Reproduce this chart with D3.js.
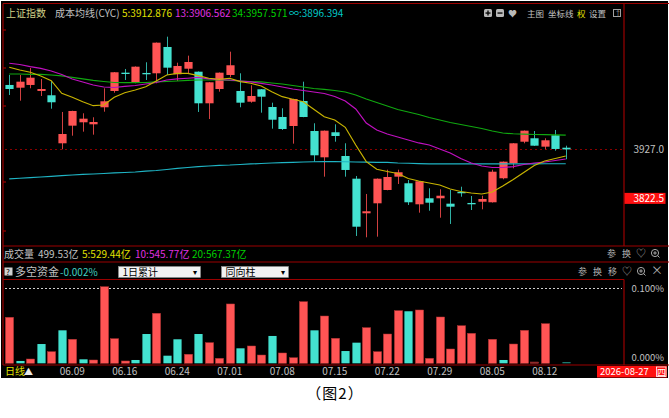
<!DOCTYPE html>
<html>
<head>
<meta charset="utf-8">
<script src="https://cdn.jsdelivr.net/npm/d3@7"></script>
<style>
  body { margin: 0; background: #fff; }
  text { font-family: "Noto Sans CJK SC", sans-serif; font-size: 10px; }
</style>
</head>
<body>
<script>
// trading days shown on the chart
var dates = ["06.01","06.02","06.03","06.04","06.05","06.08","06.09","06.10","06.11","06.12",
  "06.15","06.16","06.17","06.18","06.22","06.23","06.24","06.25","06.26","06.29",
  "06.30","07.01","07.02","07.03","07.06","07.07","07.08","07.09","07.10","07.13",
  "07.14","07.15","07.16","07.17","07.20","07.21","07.22","07.23","07.24","07.27",
  "07.28","07.29","07.30","07.31","08.03","08.04","08.05","08.06","08.07","08.10",
  "08.11","08.12","08.13","08.14"];

var openP = [4064.4,4058.6,4064.4,4051.6,4042.4,3940.0,3977.6,3984.8,3980.5,4016.8,
  4051.6,4090.6,4070.1,4090.0,4089.3,4145.4,4087.2,4099.1,4092.7,4025.3,
  4055.8,4085.7,4051.6,4028.7,4055.2,4017.4,3996.1,3976.9,4030.2,3966.2,
  3910.1,3963.5,3912.9,3864.5,3790.7,3812.0,3840.4,3868.8,3854.7,3809.9,
  3822.7,3822.7,3811.2,3836.1,3812.7,3815.4,3814.2,3865.4,3897.4,3943.4,
  3950.7,3932.8,3957.1,3930.6];
var highP = [4085.7,4085.7,4100.6,4077.2,4072.9,4006.8,4009.5,4004.0,3995.5,4057.3,
  4092.0,4098.5,4104.0,4112.8,4155.0,4167.4,4111.9,4126.9,4093.2,4070.5,
  4091.0,4135.4,4089.3,4063.7,4055.6,4026.6,4014.7,4035.0,4071.4,3982.7,
  3967.3,3980.5,3940.0,3870.3,3831.9,3865.0,3883.7,3883.7,3861.7,3859.5,
  3844.0,3841.9,3840.4,3847.4,3827.6,3828.2,3883.7,3901.2,3940.4,3967.3,
  3966.2,3950.7,3968.4,3934.9];
var lowP = [4043.0,4030.9,4057.3,4040.9,4013.8,3927.2,3956.2,3964.8,3958.4,4007.4,
  4047.9,4075.0,4068.0,4075.0,4068.0,4085.7,4072.9,4089.3,4006.8,3991.8,
  4050.1,4080.8,4016.8,4026.6,4005.3,3971.2,3968.4,3939.2,3995.6,3900.8,
  3868.8,3943.4,3868.8,3742.3,3739.5,3740.8,3839.8,3853.2,3808.4,3792.0,
  3796.2,3781.3,3767.9,3826.1,3797.7,3799.2,3813.6,3863.2,3886.7,3940.0,
  3934.5,3927.2,3924.2,3905.9];
var closeP = [4055.8,4071.4,4079.9,4055.8,4027.5,3959.8,4008.9,3992.5,3985.4,4029.6,
  4091.5,4087.8,4103.4,4087.2,4154.6,4101.3,4104.9,4113.4,4025.3,4070.1,
  4090.6,4106.4,4026.6,4040.9,4039.4,3990.3,3970.5,4034.5,3996.1,3914.4,
  3966.9,3955.6,3883.1,3762.1,3795.0,3864.5,3868.1,3878.2,3814.2,3859.0,
  3813.3,3828.2,3804.8,3833.4,3809.9,3821.2,3879.4,3900.8,3940.0,3966.9,
  3934.9,3946.4,3927.9,3927.0];

// cost moving averages (CYC) 5 / 13 / 34 / infinity
var cyc5 = [4102.1,4096.4,4091.5,4083.6,4073.5,4046.7,4038.1,4028.7,4020.2,4021.7,
  4038.1,4047.9,4053.7,4060.7,4072.9,4085.7,4089.3,4089.3,4084.2,4078.7,
  4076.5,4078.7,4071.4,4068.0,4062.2,4050.1,4039.4,4033.9,4028.7,4012.5,
  3996.7,3989.7,3974.1,3936.4,3900.8,3884.6,3879.9,3875.6,3864.9,3859.6,
  3855.3,3851.1,3842.5,3837.2,3834.0,3831.9,3836.1,3848.9,3862.8,3877.7,
  3892.7,3902.3,3907.6,3912.876];
var cyc13 = [4110.7,4108.1,4103.4,4099.6,4094.2,4086.8,4077.2,4070.8,4064.4,4060.1,
  4059.0,4061.2,4063.3,4066.5,4069.7,4075.0,4077.2,4078.7,4080.4,4077.2,
  4075.7,4075.0,4072.9,4070.8,4067.6,4064.4,4060.1,4055.8,4052.6,4049.4,
  4046.2,4039.8,4030.2,4013.2,3983.3,3968.4,3959.8,3953.4,3947.1,3940.7,
  3936.4,3927.9,3919.3,3907.6,3898.0,3891.6,3888.4,3888.4,3890.1,3894.8,
  3898.0,3900.1,3903.3,3906.562];
var cyc34 = [4087.8,4087.8,4087.2,4086.8,4085.7,4083.6,4080.4,4077.2,4074.0,4071.8,
  4069.7,4069.3,4069.3,4069.7,4070.8,4071.8,4072.9,4074.0,4075.0,4075.0,
  4075.0,4074.0,4072.9,4071.8,4070.8,4068.6,4066.5,4063.3,4060.1,4056.9,
  4054.8,4052.6,4049.4,4043.0,4034.5,4027.0,4019.6,4012.1,4006.8,4001.4,
  3995.0,3989.7,3984.4,3980.1,3975.8,3971.6,3966.2,3962.0,3960.3,3959.4,
  3958.8,3958.4,3958.1,3957.571];
var cycInf = [3863.9,3865.4,3866.6,3868.1,3869.6,3871.1,3872.4,3873.5,3874.5,3875.6,
  3876.7,3877.7,3878.8,3880.5,3882.0,3884.1,3886.3,3888.4,3890.1,3891.6,
  3893.1,3893.7,3894.8,3895.9,3896.9,3898.0,3898.6,3899.5,3900.1,3900.6,
  3900.8,3900.8,3900.6,3900.1,3899.7,3899.5,3899.1,3898.0,3897.4,3896.7,
  3896.3,3896.0,3896.0,3896.0,3896.0,3896.0,3896.0,3896.1,3896.2,3896.3,
  3896.3,3896.4,3896.4,3896.394];

// 多空资金 (%) and bar direction (1 red, -1 cyan)
var flowVals = [0.0611,0.0031,0.0057,0.0256,0.0154,0.0438,0.0319,0.0053,0.0044,0.1017,
  0.0327,0.0031,0.0044,0.0389,0.0664,0.0101,0.0319,0.0120,0.0389,0.0274,
  0.0066,0.0788,0.0199,0.0230,0.0110,0.0363,0.0137,0.0074,0.0818,0.0438,
  0.0628,0.0332,0.0163,0.0274,0.0473,0.0154,0.0389,0.0699,0.0691,0.0708,
  0.0066,0.0615,0.0190,0.0499,0.0398,0,0.0319,0.0044,0.0256,0.0438,
  0.0017,0.0526,0,0.0017];
var flowDir = [1,-1,1,-1,1,-1,1,-1,1,1,
  1,1,-1,-1,1,-1,-1,1,-1,1,
  1,1,-1,1,1,-1,1,1,1,-1,
  1,1,-1,-1,1,1,1,1,-1,1,
  1,1,1,1,1,1,1,-1,1,1,
  1,1,1,-1];

var tickDates = ["06.09","06.16","06.24","07.01","07.08","07.15","07.22","07.29","08.05","08.12"];
var priceTicks = [3927.0];
var priceMark = 3822.5;
var flowTicks = [0.100, 0.000];

var svgWidth = 669;
var svgHeight = 418;

var red = "#ff5454", cyan = "#44e2d0";
var border = "#9b0000";
var gray = "#c0c0c0";

var svg = d3.select("body")
  .append("svg")
  .attr("width", svgWidth)
  .attr("height", svgHeight);

svg.append("rect")
  .attr("x", 1).attr("y", 1)
  .attr("width", 667).attr("height", 377)
  .attr("fill", "#000");

// scales
var x = d3.scalePoint()
  .domain(dates)
  .range([4, 571])
  .padding(0.5);
var bodyW = x.step() * 0.78;

var y = d3.scaleLinear()
  .domain([3731.6, 4198.7])
  .range([241, 22]);

var yf = d3.scaleLinear()
  .domain([0, 0.1])
  .range([363.3, 288]);

// panel frame lines
function hline(y0, x1, x2) {
  svg.append("line").attr("x1", x1).attr("x2", x2).attr("y1", y0).attr("y2", y0)
    .attr("stroke", border).attr("stroke-width", 1.2);
}
function vline(x0, y1, y2) {
  svg.append("line").attr("x1", x0).attr("x2", x0).attr("y1", y1).attr("y2", y2)
    .attr("stroke", border).attr("stroke-width", 1.2);
}
hline(3.5, 3, 669);
hline(246, 3, 669);
hline(262, 3, 669);
hline(279.5, 3, 624);
hline(365, 3, 669);
vline(3, 3.5, 365);
vline(624, 3.5, 246);
vline(624, 279.5, 365);
[30, 68, 106, 182, 231].forEach(function(t) { hline(t, 3, 6); });

// main chart
svg.append("clipPath").attr("id", "clipMain")
  .append("rect").attr("x", 4).attr("y", 18).attr("width", 619).attr("height", 227);

var main = svg.append("g").attr("clip-path", "url(#clipMain)");

main.selectAll(".ref")
  .data(priceTicks)
  .enter()
  .append("line")
  .attr("x1", 5).attr("x2", 623)
  .attr("y1", d => Math.round(y(d)) + 0.5)
  .attr("y2", d => Math.round(y(d)) + 0.5)
  .attr("stroke", "#8a0000")
  .attr("stroke-dasharray", "2,3");

var candles = main.selectAll(".candle")
  .data(dates)
  .enter()
  .append("g");

candles.append("line")
  .attr("x1", d => Math.round(x(d)) + 0.5)
  .attr("x2", d => Math.round(x(d)) + 0.5)
  .attr("y1", (d, i) => y(highP[i]))
  .attr("y2", (d, i) => y(lowP[i]))
  .attr("stroke", (d, i) => closeP[i] >= openP[i] ? "#d04040" : "#2fb0a4")
  .attr("stroke-width", 1);

candles.append("rect")
  .attr("x", d => Math.round(x(d)) + 0.5 - bodyW / 2)
  .attr("y", (d, i) => y(Math.max(openP[i], closeP[i])))
  .attr("width", bodyW)
  .attr("height", (d, i) => Math.max(1.2, Math.abs(y(openP[i]) - y(closeP[i]))))
  .attr("fill", (d, i) => closeP[i] >= openP[i] ? red : cyan);

var lineGen = d3.line()
  .x((d, i) => x(dates[i]))
  .y(d => y(d));

var maSeries = [
  {vals: cycInf, color: "#1fb4c4"},
  {vals: cyc34, color: "#10a810"},
  {vals: cyc13, color: "#c010c0"},
  {vals: cyc5, color: "#c8b400"}
];
maSeries.forEach(function(s) {
  main.append("path")
    .attr("d", lineGen(s.vals))
    .attr("fill", "none")
    .attr("stroke", s.color)
    .attr("stroke-width", 1.2);
});

// right price axis
svg.selectAll(".ptick")
  .data(priceTicks)
  .enter()
  .append("text")
  .attr("x", 664).attr("y", d => y(d) + 3.5)
  .attr("text-anchor", "end")
  .attr("fill", gray)
  .text(d => d.toFixed(1));

svg.append("rect")
  .attr("x", 624.5).attr("y", y(priceMark) - 5.5)
  .attr("width", 41).attr("height", 11)
  .attr("fill", "#ff1010");
svg.append("text")
  .attr("x", 664).attr("y", y(priceMark) + 3.5)
  .attr("text-anchor", "end")
  .attr("fill", "#fff")
  .text(priceMark.toFixed(1));

// header row
function label(tx, ty, str, color, size) {
  return svg.append("text").attr("x", tx).attr("y", ty)
    .attr("fill", color).style("font-size", (size || 10) + "px").text(str);
}
label(6, 17, "上证指数", "#d2d28a");
label(55, 17, "成本均线(CYC)", gray);
label(122, 17, "5:" + cyc5[53].toFixed(3), "#e0e000");
label(175, 17, "13:" + cyc13[53].toFixed(3), "#e030e0");
label(232, 17, "34:" + cyc34[53].toFixed(3), "#00d000");
label(289, 17, "∞:" + cycInf[53].toFixed(3), "#00c8c8");

svg.append("rect").attr("x", 484).attr("y", 9).attr("width", 8).attr("height", 8)
  .attr("rx", 1.5).attr("fill", "#b8b8b8");
svg.append("rect").attr("x", 485.5).attr("y", 12.4).attr("width", 5).attr("height", 1.3)
  .attr("fill", "#000");
svg.append("rect").attr("x", 487.35).attr("y", 10.5).attr("width", 1.3).attr("height", 5)
  .attr("fill", "#000");
svg.append("rect").attr("x", 496).attr("y", 9).attr("width", 8).attr("height", 8)
  .attr("rx", 1.5).attr("fill", "#b8b8b8");
svg.append("rect").attr("x", 497.5).attr("y", 12.4).attr("width", 5).attr("height", 1.3)
  .attr("fill", "#000");
label(508, 17, "♥", "#b8b8b8", 9);
label(527, 16.5, "主图", gray, 8.5);
label(548, 16.5, "坐标线", gray, 8.5);
label(577, 16.5, "权", "#e0e000", 8.5);
label(589, 16.5, "设置", gray, 8.5);
svg.append("rect").attr("x", 613.5).attr("y", 9.5).attr("width", 7).attr("height", 7)
  .attr("fill", "none").attr("stroke", "#a0a0a0");
label(614.5, 16, "↑", "#a0a0a0", 7);

// volume header row
label(4, 258, "成交量", gray);
label(38, 258, "499.53亿", gray);
label(82, 258, "5:529.44亿", "#e0e000");
label(135, 258, "10:545.77亿", "#e030e0");
label(192, 258, "20:567.37亿", "#00d000");

function zoomIcon(cx, cy) {
  svg.append("circle").attr("cx", cx).attr("cy", cy).attr("r", 3.6)
    .attr("fill", "none").attr("stroke", "#a8a8a8");
  svg.append("line").attr("x1", cx - 1.8).attr("x2", cx + 1.8).attr("y1", cy).attr("y2", cy)
    .attr("stroke", "#a8a8a8");
  svg.append("line").attr("x1", cx).attr("x2", cx).attr("y1", cy - 1.8).attr("y2", cy + 1.8)
    .attr("stroke", "#a8a8a8");
  svg.append("line").attr("x1", cx + 2.6).attr("x2", cx + 4.5).attr("y1", cy + 2.6).attr("y2", cy + 4.5)
    .attr("stroke", "#a8a8a8");
}
label(607, 257, "参", "#b0b0b0", 9);
label(622, 257, "换", "#b0b0b0", 9);
label(636, 257, "♡", "#b0b0b0", 10);
zoomIcon(655, 253);

// 多空资金 row
svg.append("rect").attr("x", 4.5).attr("y", 267.5).attr("width", 8).attr("height", 8)
  .attr("fill", "#d0d0d0");
label(6, 274.5, "?", "#000", 8);
label(15, 275.5, "多空资金", gray, 11);
label(60, 275.5, "-0.002%", "#40d0c0");

function dropBox(bx, bw, str) {
  svg.append("rect").attr("x", bx).attr("y", 266.5).attr("width", bw).attr("height", 11)
    .attr("fill", "#f2f2f2").attr("stroke", "#909090").attr("stroke-width", 0.6);
  label(bx + 4, 275.5, str, "#000");
  label(bx + bw - 8, 275, "▾", "#000", 8);
}
dropBox(118.5, 82, "1日累计");
dropBox(221.5, 67, "同向柱");

label(578, 275, "参", "#b0b0b0", 9);
label(593, 275, "换", "#b0b0b0", 9);
label(608, 275, "移", "#b0b0b0", 9);
label(622, 275, "♡", "#b0b0b0", 10);
zoomIcon(641, 271);
label(651, 275, "×", "#b0b0b0", 12);

// flow bars panel
svg.append("clipPath").attr("id", "clipFlow")
  .append("rect").attr("x", 4).attr("y", 280).attr("width", 665).attr("height", 84.4);

var flow = svg.append("g").attr("clip-path", "url(#clipFlow)");

flow.append("line")
  .attr("x1", 5).attr("x2", 622)
  .attr("y1", Math.round(yf(0.1)) + 0.5).attr("y2", Math.round(yf(0.1)) + 0.5)
  .attr("stroke", "#d0d0d0")
  .attr("stroke-dasharray", "2,2");

function barColor(v, dir) {
  if (v < 0.002) return dir > 0 ? "#8a2a2a" : "#1e7a70";
  return dir > 0 ? red : cyan;
}

flow.selectAll(".bar")
  .data(flowVals)
  .enter()
  .append("rect")
  .attr("class", "bar")
  .attr("x", (d, i) => Math.round(x(dates[i])) + 0.5 - bodyW / 2)
  .attr("y", d => yf(d))
  .attr("width", bodyW)
  .attr("height", d => yf(0) - yf(d))
  .attr("fill", (d, i) => barColor(d, flowDir[i]))
  .attr("stroke", (d, i) => d > 0 && flowDir[i] > 0 ? "#b03030" : "none")
  .attr("stroke-width", 0.5);

svg.selectAll(".flowtick")
  .data(flowTicks)
  .enter()
  .append("text")
  .attr("x", 664).attr("y", d => d > 0 ? yf(d) + 3.5 : yf(d) - 2)
  .attr("text-anchor", "end")
  .attr("fill", gray)
  .style("font-size", "9.5px")
  .text(d => d.toFixed(3) + "%");

// bottom axis row
label(5, 375, "日线", "#e0e000");
label(24, 375, "▲", "#e8e8e8", 9);

svg.selectAll(".dtick")
  .data(tickDates)
  .enter()
  .append("text")
  .attr("x", d => x(d))
  .attr("y", 375)
  .attr("text-anchor", "middle")
  .attr("fill", gray)
  .text(d => d);

svg.append("rect").attr("x", 597).attr("y", 366).attr("width", 70).attr("height", 11.5)
  .attr("fill", "#ff1010");
label(600, 375, "2026-08-27", "#fff", 9.5);
svg.append("rect").attr("x", 656.5).attr("y", 367).attr("width", 9.5).attr("height", 9.5)
  .attr("fill", "none").attr("stroke", "#fff").attr("stroke-width", 0.8);
label(657, 375.5, "四", "#fff", 9);

// caption
svg.append("text")
  .attr("x", 335).attr("y", 399)
  .attr("text-anchor", "middle")
  .attr("fill", "#000")
  .style("font-size", "15px")
  .style("letter-spacing", "1px")
  .text("（图2）");
</script>
</body>
</html>
